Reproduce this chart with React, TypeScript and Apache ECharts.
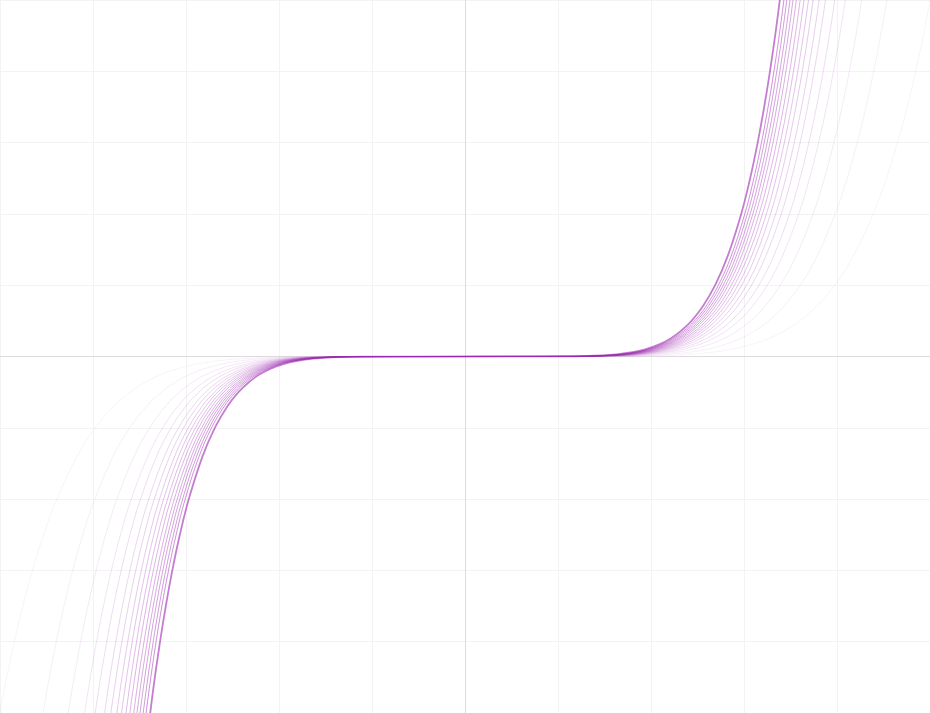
import React, { useEffect, useRef } from "react";
import * as echarts from "echarts";

// y levels (positive side) along each curve
const yLevels = [0.002, 0.005, 0.015, 0.03, 0.06, 0.1, 0.17, 0.25, 0.35, 0.5, 0.7, 1, 1.4, 2, 2.5, 3, 3.5, 4, 4.6, 5.3];

// shared shape: x crossing at each level, relative to the crossing at y = 1
const shapeProfile = [0.4116, 0.469, 0.5488, 0.606, 0.6691, 0.7197, 0.7764, 0.8203, 0.8607, 0.9057, 0.9503, 1, 1.0492, 1.1041, 1.1399, 1.1699, 1.196, 1.219, 1.2436, 1.269];

// x where each curve crosses y = 1, innermost (darkest) first, outermost (faintest) last
const crossAtOne = [2.69, 2.725, 2.75, 2.777, 2.803, 2.831, 2.864, 2.897, 2.935, 2.975, 3.026, 3.08, 3.16, 3.25, 3.39, 3.605, 3.975];

const opacities = [0.6, 0.5, 0.46, 0.43, 0.4, 0.37, 0.34, 0.31, 0.28, 0.25, 0.22, 0.19, 0.16, 0.13, 0.1, 0.08, 0.06];

const axisRange = [-5, 5];

function buildPoints(scale: number): [number, number][] {
  const pts: [number, number][] = [];
  for (let i = yLevels.length - 1; i >= 0; i--) pts.push([-scale * shapeProfile[i], -yLevels[i]]);
  pts.push([0, 0]);
  for (let i = 0; i < yLevels.length; i++) pts.push([scale * shapeProfile[i], yLevels[i]]);
  return pts;
}

export default function App() {
  const ref = useRef<HTMLDivElement>(null);
  useEffect(() => {
    if (!ref.current) return;
    const chart = echarts.init(ref.current, undefined, { renderer: "svg" });
    const series: any[] = [];
    for (let k = crossAtOne.length - 1; k >= 0; k--) {
      series.push({
        type: "line",
        data: buildPoints(crossAtOne[k]),
        showSymbol: false,
        smooth: 0.4,
        silent: true,
        lineStyle: {
          color: "#9c27b0",
          width: k === 0 ? 1.8 : 1,
          opacity: opacities[k],
        },
      });
    }
    const axisCommon = {
      type: "value",
      min: axisRange[0],
      max: axisRange[1],
      interval: 1,
      axisLine: { show: true, onZero: true, lineStyle: { color: "#dcdcdc", width: 1 } },
      axisTick: { show: false },
      axisLabel: { show: false },
      splitLine: { show: true, lineStyle: { color: "#f3f3f3", width: 1 } },
    };
    chart.setOption({
      animation: false,
      backgroundColor: "#ffffff",
      grid: { left: 0, right: 0, top: 0, bottom: 0, containLabel: false },
      xAxis: { ...axisCommon },
      yAxis: { ...axisCommon },
      series,
    });
    return () => chart.dispose();
  }, []);
  return (
    <div
      ref={ref}
      style={{ position: "fixed", left: 0, top: 0, width: 930, height: 713 }}
    />
  );
}
